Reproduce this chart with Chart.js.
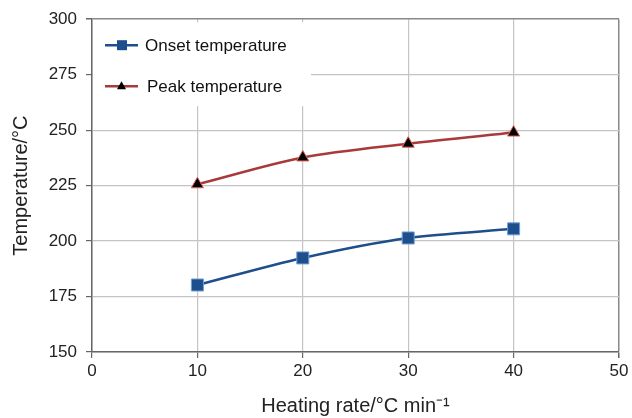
<!DOCTYPE html>
<html>
<head>
<meta charset="utf-8">
<script src="https://cdn.jsdelivr.net/npm/chart.js@4/dist/chart.umd.min.js"></script>
<style>
  html, body { margin: 0; padding: 0; background: #fff; }
  #wrap { width: 632px; height: 418px; }
</style>
</head>
<body>
<div id="wrap"><canvas id="chart" width="632" height="418"></canvas></div>
<script>
// Data
const heatingRates = [10, 20, 30, 40];
const onsetTemps = [180.2, 192.4, 201.4, 205.5];
const peakTemps = [225.6, 237.7, 243.9, 248.9];
const seriesNames = ['Onset temperature', 'Peak temperature'];
const xTicks = [0, 10, 20, 30, 40, 50];
const yTicks = [150, 175, 200, 225, 250, 275, 300];

const FONT = '"Liberation Sans", Arial, Helvetica, sans-serif';

const blue = '#1f4e8c';
const red = '#a83a3a';

function toPoints(xs, ys) {
    return xs.map((x, i) => ({ x: x, y: ys[i] }));
}

// Legend drawn inside the plot area, over the gridlines
const insideLegend = {
    id: 'insideLegend',
    beforeDatasetsDraw(chart) {
        const ctx = chart.ctx;
        const area = chart.chartArea;
        ctx.save();
        ctx.fillStyle = '#fff';
        ctx.fillRect(area.left + 1, area.top + 3, 218, 84);

        const rows = [
            { y: area.top + 26, name: seriesNames[0], color: blue, textX: 145 },
            { y: area.top + 67, name: seriesNames[1], color: red, textX: 147 }
        ];
        rows.forEach((r, i) => {
            ctx.strokeStyle = r.color;
            ctx.lineWidth = 2.5;
            ctx.beginPath();
            ctx.moveTo(105, r.y);
            ctx.lineTo(138, r.y);
            ctx.stroke();
            if (i === 0) {
                ctx.fillStyle = blue;
                ctx.fillRect(117, r.y - 5, 10, 10);
            } else {
                ctx.fillStyle = '#000';
                ctx.beginPath();
                ctx.moveTo(121.5, r.y - 5);
                ctx.lineTo(126, r.y + 3);
                ctx.lineTo(117, r.y + 3);
                ctx.closePath();
                ctx.fill();
            }
            ctx.fillStyle = '#111';
            ctx.font = '17px ' + FONT;
            ctx.textBaseline = 'middle';
            ctx.fillText(r.name, r.textX, r.y + 1);
        });
        ctx.restore();
    }
};

const chart = new Chart(document.getElementById('chart'), {
    type: 'line',
    data: {
        datasets: [{
            label: seriesNames[0],
            data: toPoints(heatingRates, onsetTemps),
            borderColor: blue,
            borderWidth: 2.5,
            backgroundColor: blue,
            pointStyle: 'rect',
            pointRadius: 8.5,
            pointBorderColor: '#6f9fd6',
            pointBorderWidth: 1,
            tension: 0.3
        }, {
            label: seriesNames[1],
            data: toPoints(heatingRates, peakTemps),
            borderColor: red,
            borderWidth: 2.5,
            backgroundColor: '#000',
            pointStyle: 'triangle',
            pointRadius: 7,
            pointBorderColor: '#e06060',
            pointBorderWidth: 1,
            tension: 0.3
        }]
    },
    options: {
        responsive: false,
        animation: false,
        layout: { padding: { top: 19, right: 13, left: 0, bottom: 0 } },
        plugins: {
            legend: { display: false },
            tooltip: { enabled: false }
        },
        scales: {
            x: {
                type: 'linear',
                min: 0,
                max: 50,
                afterBuildTicks: (scale) => { scale.ticks = xTicks.map(v => ({ value: v })); },
                afterFit: (scale) => { scale.height = 66; },
                grid: {
                    color: (c) => c.tick && c.tick.value === 50 ? '#888' : '#c4c4c4',
                    lineWidth: (c) => c.tick && c.tick.value === 50 ? 1.5 : 1.2,
                    tickColor: '#666',
                    tickLength: 6
                },
                border: { color: '#666', width: 1.5 },
                ticks: {
                    color: '#222',
                    font: { size: 17, family: FONT },
                    padding: 3,
                    maxRotation: 0
                },
                title: {
                    display: true,
                    text: 'Heating rate/°C min⁻¹',
                    color: '#222',
                    font: { size: 20, family: FONT },
                    padding: { top: 2, bottom: 0 }
                }
            },
            y: {
                min: 150,
                max: 300,
                afterBuildTicks: (scale) => { scale.ticks = yTicks.map(v => ({ value: v })); },
                afterFit: (scale) => { scale.width = 92; },
                grid: {
                    color: (c) => c.tick && c.tick.value === 300 ? '#888' : '#c4c4c4',
                    lineWidth: (c) => c.tick && c.tick.value === 300 ? 1.5 : 1.2,
                    tickColor: '#666',
                    tickLength: 6
                },
                border: { color: '#666', width: 1.5 },
                ticks: {
                    color: '#222',
                    font: { size: 17, family: FONT },
                    padding: 9
                },
                title: {
                    display: true,
                    text: 'Temperature/°C',
                    color: '#222',
                    font: { size: 20, family: FONT },
                    padding: { top: 9, bottom: 6 }
                }
            }
        }
    },
    plugins: [insideLegend]
});
</script>
</body>
</html>
